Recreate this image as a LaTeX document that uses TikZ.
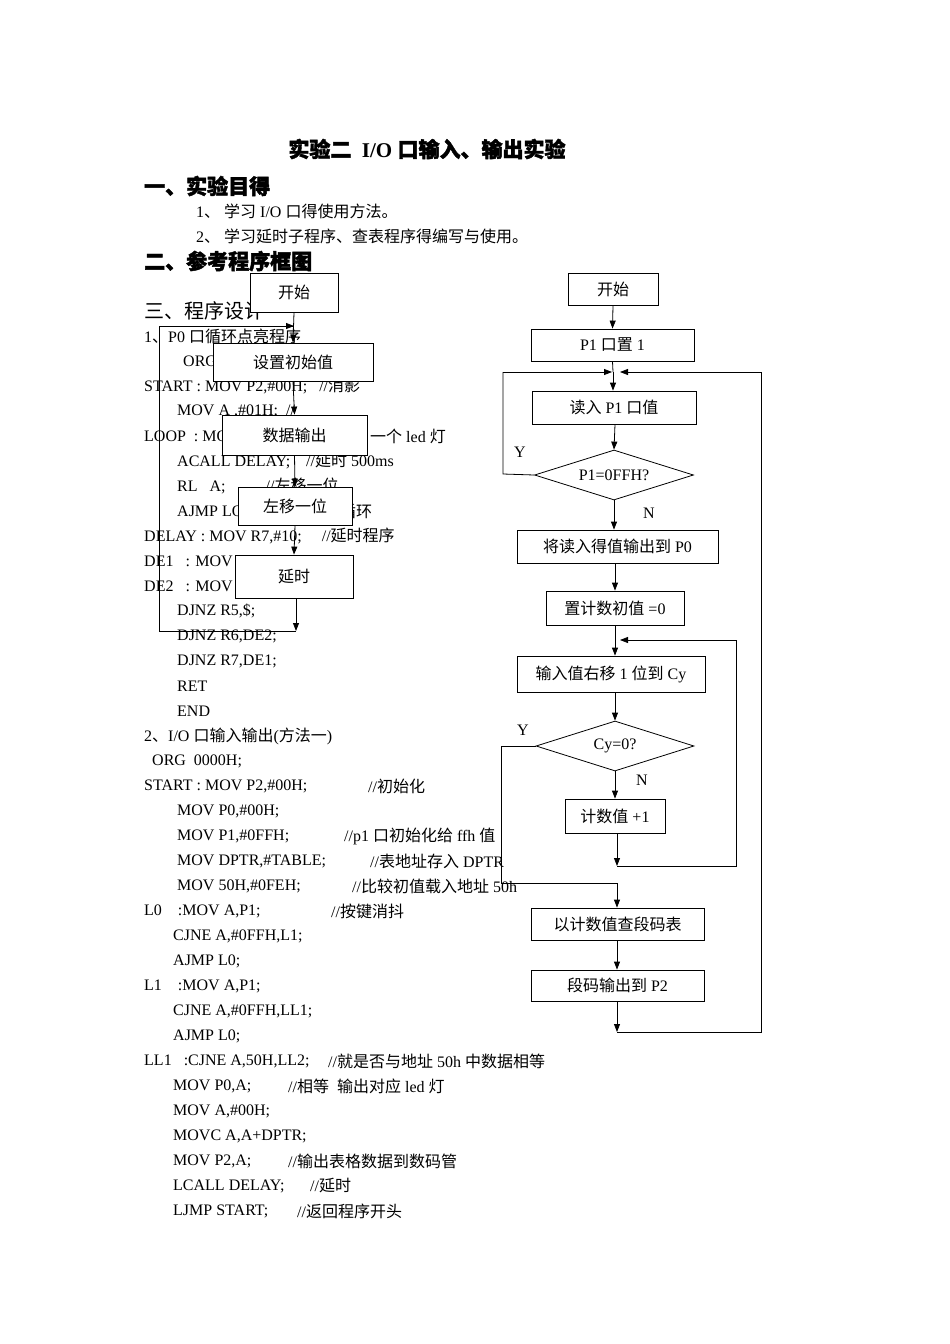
\documentclass[tikz,border=0pt]{standalone}
\usepackage{fontspec}
\setmainfont{Liberation Serif}
\newfontfamily\cjk{Noto Sans CJK SC}
\newfontfamily\cjkb{Noto Sans CJK SC}[FakeBold=2]
\newcommand\C[1]{{\cjk #1}}
\newcommand\B[1]{{\cjkb #1}}
\usetikzlibrary{arrows.meta,shapes.geometric}
\begin{document}
\begin{tikzpicture}[x=1pt,y=-1pt,
  txt/.style={anchor=west,inner sep=0,font=\fontsize{16}{16}\selectfont},
  hd/.style={anchor=west,inner sep=0,font=\fontsize{21}{21}\selectfont\bfseries},
  box/.style={draw,fill=white,line width=0.8pt,inner sep=0,font=\fontsize{16}{16}\selectfont},
  dia/.style={draw,fill=white,diamond,aspect=3.2,line width=0.8pt,inner sep=0,font=\fontsize{16}{16}\selectfont},
  ln/.style={line width=0.8pt},
  ar/.style={line width=0.8pt,-{Triangle[length=8pt,width=6pt]}}]
\useasboundingbox (0,0) rectangle (950,1344);
% headings
\node[anchor=center,inner sep=0,font=\fontsize{21}{21}\selectfont\bfseries] at (427,149) {\B{实验二}\ \ I/O \B{口输入、输出实验}};
\node[hd] at (144,186) {\B{一、实验目得}};
\node[txt] at (196,211) {1\C{、} \C{学习} I/O \C{口得使用方法。}};
\node[txt] at (196,236) {2\C{、} \C{学习延时子程序、查表程序得编写与使用。}};
\node[hd] at (144,261) {\B{二、参考程序框图}};
\node[anchor=west,inner sep=0,font=\fontsize{20}{20}\selectfont] at (144,311) {\C{三、程序设计}};
\node[txt] at (144,336) {1\C{、}P0 \C{口循环点亮程序}};
\node[txt] at (183,361) {ORG};
\node[txt] at (144,386) {START : MOV P2,\#00H;\ \ \ //\C{消影}};
\node[txt] at (177,411) {MOV A ,\#01H;\ \ //};
\node[txt] at (144,436) {LOOP\ \ : MOV};
\node[txt] at (370,436) {\C{一个} led \C{灯}};
\node[txt] at (177,461) {ACALL DELAY;\ \ \ \ //\C{延时} 500ms};
\node[txt] at (177,486) {RL\ \ \ A;\ \ \ \ \ \ \ \ \ \ //\C{左移一位}};
\node[txt] at (177,511) {AJMP LOOP};
\node[txt] at (340,511) {\C{循环}};
\node[txt] at (144,536) {DELAY : MOV R7,\#10;\ \ \ \ \ //\C{延时程序}};
\node[txt] at (144,561) {DE1\ \ \ : MOV};
\node[txt] at (144,586) {DE2\ \ \ : MOV};
\node[txt] at (177,611) {DJNZ R5,\$;};
\node[txt] at (177,636) {DJNZ R6,DE2;};
\node[txt] at (177,661) {DJNZ R7,DE1;};
\node[txt] at (177,686) {RET};
\node[txt] at (177,711) {END};
\node[txt] at (144,736) {2\C{、}I/O \C{口输入输出}(\C{方法一})};
\node[txt] at (152,761) {ORG\ \ 0000H;};
\node[txt] at (144,786) {START : MOV P2,\#00H;};
\node[txt] at (368,786) {//\C{初始化}};
\node[txt] at (177,811) {MOV P0,\#00H;};
\node[txt] at (177,836) {MOV P1,\#0FFH;};
\node[txt] at (344,836) {//p1 \C{口初始化给} ffh \C{值}};
\node[txt] at (177,861) {MOV DPTR,\#TABLE;};
\node[txt] at (370,861) {//\C{表地址存入} DPTR};
\node[txt] at (177,886) {MOV 50H,\#0FEH;};
\node[txt] at (352,886) {//\C{比较初值载入地址} 50h};
\node[txt] at (144,911) {L0\ \ \ \ :MOV A,P1;};
\node[txt] at (331,911) {//\C{按键消抖}};
\node[txt] at (173,936) {CJNE A,\#0FFH,L1;};
\node[txt] at (173,961) {AJMP L0;};
\node[txt] at (144,986) {L1\ \ \ \ :MOV A,P1;};
\node[txt] at (173,1011) {CJNE A,\#0FFH,LL1;};
\node[txt] at (173,1036) {AJMP L0;};
\node[txt] at (144,1061) {LL1\ \ \ :CJNE A,50H,LL2;};
\node[txt] at (328,1061) {//\C{就是否与地址} 50h \C{中数据相等}};
\node[txt] at (173,1086) {MOV P0,A;};
\node[txt] at (288,1086) {//\C{相等}\ \ \C{输出对应} led \C{灯}};
\node[txt] at (173,1111) {MOV A,\#00H;};
\node[txt] at (173,1136) {MOVC A,A+DPTR;};
\node[txt] at (173,1161) {MOV P2,A;};
\node[txt] at (288,1161) {//\C{输出表格数据到数码管}};
\node[txt] at (173,1186) {LCALL DELAY;};
\node[txt] at (310,1186) {//\C{延时}};
\node[txt] at (173,1211) {LJMP START;};
\node[txt] at (297,1211) {//\C{返回程序开头}};
% left flowchart
\coordinate (lb) at (296,631);
\coordinate (lbl) at (159,631);
\coordinate (ltl) at (159,326);
\coordinate (ltr) at (294,326);
\draw[ln] (lb) -- (lbl) -- (ltl) -- (ltr);
\node[box,minimum width=88pt,minimum height=39pt] (a1) at (294,292.5) {\C{开始}};
\node[box,minimum width=160pt,minimum height=38pt] (a2) at (293,362) {\C{设置初始值}};
\node[box,minimum width=145pt,minimum height=40pt] (a3) at (294.5,435) {\C{数据输出}};
\node[box,minimum width=114pt,minimum height=38pt] (a4) at (295,506) {\C{左移一位}};
\node[box,minimum width=118pt,minimum height=43pt] (a5) at (294,576.5) {\C{延时}};
\draw[ar] (a1.south) -- (a2.north);
\draw[ar] (ltl) -- (ltr);
\draw[ar] (a2.south) -- (a3.north);
\draw[ar] (a3.south) -- (a4.north);
\draw[ar] (a4.south) -- (a5.north);
\draw[ar] (a5.south -| lb) -- (lb);
% right flowchart
\node[box,minimum width=90pt,minimum height=32pt] (b1) at (613,289) {\C{开始}};
\node[box,minimum width=163pt,minimum height=32pt] (b2) at (612.5,345) {P1 \C{口置} 1};
\node[box,minimum width=164pt,minimum height=33pt] (b3) at (614,407.5) {\C{读入} P1 \C{口值}};
\node[dia,minimum width=159pt,minimum height=50pt] (b4) at (614,475) {P1=0FFH?};
\node[box,minimum width=201pt,minimum height=33pt] (b5) at (617.5,546.5) {\C{将读入得值输出到} P0};
\node[box,minimum width=138pt,minimum height=34pt] (b6) at (615,608) {\C{置计数初值} =0};
\node[box,minimum width=188pt,minimum height=36pt] (b7) at (611,674) {\C{输入值右移} 1 \C{位到} Cy};
\node[dia,minimum width=158pt,minimum height=50pt] (b8) at (615,746) {Cy=0?};
\node[box,minimum width=100pt,minimum height=34pt] (b9) at (615,816) {\C{计数值} +1};
\node[box,minimum width=173pt,minimum height=32pt] (b10) at (617.5,924) {\C{以计数值查段码表}};
\node[box,minimum width=173pt,minimum height=31pt] (b11) at (617.5,985.5) {\C{段码输出到} P2};
\coordinate (j1) at (613,372);
\coordinate (j1l) at (612,372);
\coordinate (j1r) at (620,372);
\coordinate (yl) at (503,474);
\coordinate (ylt) at (503,372);
\coordinate (j2r) at (620,640);
\coordinate (rr2) at (736,640);
\coordinate (rb2) at (736,866);
\coordinate (c9) at (617,866);
\coordinate (cyl) at (501,746);
\coordinate (cylb) at (501,883);
\coordinate (c10) at (617,883);
\coordinate (c11) at (617,1032);
\coordinate (rb) at (761,1032);
\coordinate (rt) at (761,372);
\draw[ar] (b1.south) -- (b2.north);
\draw[ln] (b2.south) -- (j1);
\draw[ar] (j1) -- (b3.north -| j1);
\draw[ar] (b3.south -| 615,0) -- (b4.north);
\draw[ln] (b4.west) -- (yl) -- (ylt);
\draw[ar] (ylt) -- (j1l);
\node[txt] at (514,452) {Y};
\draw[ar] (b4.south) -- (b5.north -| b4.south);
\node[txt] at (643,513) {N};
\draw[ar] (b5.south -| 615,0) -- (b6.north -| 615,0);
\draw[ar] (b6.south -| 615,0) -- (b7.north -| 615,0);
\draw[ar] (b7.south -| 615,0) -- (b8.north);
\draw[ln] (b8.west) -- (cyl) -- (cylb) -- (c10);
\node[txt] at (517,730) {Y};
\draw[ar] (b8.south) -- (b9.north);
\node[txt] at (636,780) {N};
\draw[ar] (b9.south -| c9) -- (c9);
\draw[ln] (c9) -- (rb2) -- (rr2);
\draw[ar] (rr2) -- (j2r);
\draw[ar] (c10) -- (b10.north -| c10);
\draw[ar] (b10.south -| c10) -- (b11.north -| c10);
\draw[ar] (b11.south -| c11) -- (c11);
\draw[ln] (c11) -- (rb) -- (rt);
\draw[ar] (rt) -- (j1r);
\end{tikzpicture}
\end{document}
